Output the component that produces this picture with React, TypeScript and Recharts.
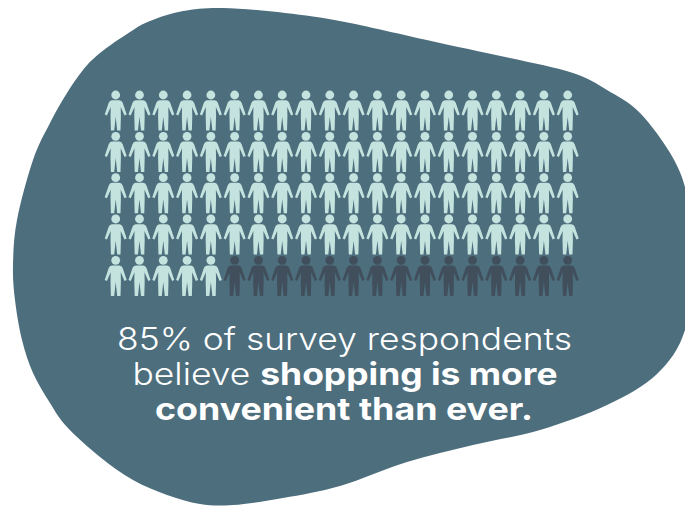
import React from "react";
import { ScatterChart, Scatter, XAxis, YAxis, Customized } from "recharts";

// Icon array: one figure per percentage point of survey respondents.
const columns = [1, 2, 3, 4, 5, 6, 7, 8, 9, 10, 11, 12, 13, 14, 15, 16, 17, 18, 19, 20];
const rows = [1, 2, 3, 4, 5];
const agreeShare = 85;

const headline = "85% of survey respondents";
const secondLead = "believe ";
const secondBold = "shopping is more";
const thirdBold = "convenient than ever.";

const LIGHT = "#c4e3de";
const DARK = "#414e5b";
const BLOB = "#4d6e7d";

const grid = rows.flatMap((row) => columns.map((col) => ({ col, row })));
const agreeing = grid.slice(0, agreeShare);
const others = grid.slice(agreeShare);

// Backdrop outline, walked clockwise from the top of the shape.
const outline: [number, number][] = [
  [223, 8], [285, 13], [345, 22], [440, 43], [510, 58], [573, 73], [607, 90], [640, 113],
  [673, 158], [688, 200], [693, 260], [685, 330], [657, 374], [607, 405], [540, 430],
  [473, 445], [407, 462], [340, 486], [283, 498], [233, 505], [200, 504], [167, 495],
  [133, 480], [100, 457], [67, 427], [50, 403], [33, 373], [22, 340], [15, 300], [13, 265],
  [17, 220], [33, 160], [50, 123], [67, 93], [83, 70], [100, 53], [130, 32], [150, 21], [183, 11],
];

// Closed Catmull-Rom spline through the outline points.
const smoothClosedPath = (pts: [number, number][]) => {
  const n = pts.length;
  let d = `M${pts[0][0]},${pts[0][1]}`;
  for (let i = 0; i < n; i++) {
    const p0 = pts[(i - 1 + n) % n];
    const p1 = pts[i];
    const p2 = pts[(i + 1) % n];
    const p3 = pts[(i + 2) % n];
    const c1x = p1[0] + (p2[0] - p0[0]) / 6;
    const c1y = p1[1] + (p2[1] - p0[1]) / 6;
    const c2x = p2[0] - (p3[0] - p1[0]) / 6;
    const c2y = p2[1] - (p3[1] - p1[1]) / 6;
    d += ` C${c1x},${c1y} ${c2x},${c2y} ${p2[0]},${p2[1]}`;
  }
  return d + " Z";
};

const BODY =
  "M-3.8,-10 L3.8,-10 Q6,-10 7,-7.4 L11,4.4 L8.8,5.4 L5,-3.2 L5.2,6 L4.8,20.4 L1.5,20.4 L0,6.5 L-1.5,20.4 L-4.8,20.4 L-5.2,6 L-5,-3.2 L-8.8,5.4 L-11,4.4 L-7,-7.4 Q-6,-10 -3.8,-10 Z";

const Person = ({ cx, cy, fill }: any) => (
  <g transform={`translate(${cx},${cy})`} fill={fill}>
    <circle cx={0} cy={-15.2} r={4.4} />
    <path d={BODY} />
  </g>
);

const Blob = () => <path fill={BLOB} d={smoothClosedPath(outline)} />;

const Caption = () => (
  <g fill="#ffffff" fontFamily="Inter, 'Noto Sans', sans-serif" fontSize={31} textAnchor="middle">
    <text x={344.5} y={350} fontWeight={300} textLength={455} lengthAdjust="spacingAndGlyphs">{headline}</text>
    <text x={345} y={385} fontWeight={300} textLength={425} lengthAdjust="spacingAndGlyphs">
      {secondLead}
      <tspan fontWeight={700}>{secondBold}</tspan>
    </text>
    <text x={344} y={420} fontWeight={700} textLength={378} lengthAdjust="spacingAndGlyphs">{thirdBold}</text>
  </g>
);

export default function App() {
  return (
    <div style={{ position: "absolute", left: 0, top: 0, width: 685, height: 506, overflow: "hidden", background: "#fff" }}>
      <ScatterChart width={685} height={506} margin={{ top: 110.2, right: 117.3, bottom: 230.5, left: 115.7 }}>
        <Customized component={Blob} />
        <XAxis type="number" dataKey="col" domain={[1, 20]} hide />
        <YAxis type="number" dataKey="row" domain={[1, 5]} reversed hide width={0} />
        <Scatter data={agreeing} isAnimationActive={false} fill={LIGHT} shape={<Person fill={LIGHT} />} />
        <Scatter data={others} isAnimationActive={false} fill={DARK} shape={<Person fill={DARK} />} />
        <Customized component={Caption} />
      </ScatterChart>
    </div>
  );
}
